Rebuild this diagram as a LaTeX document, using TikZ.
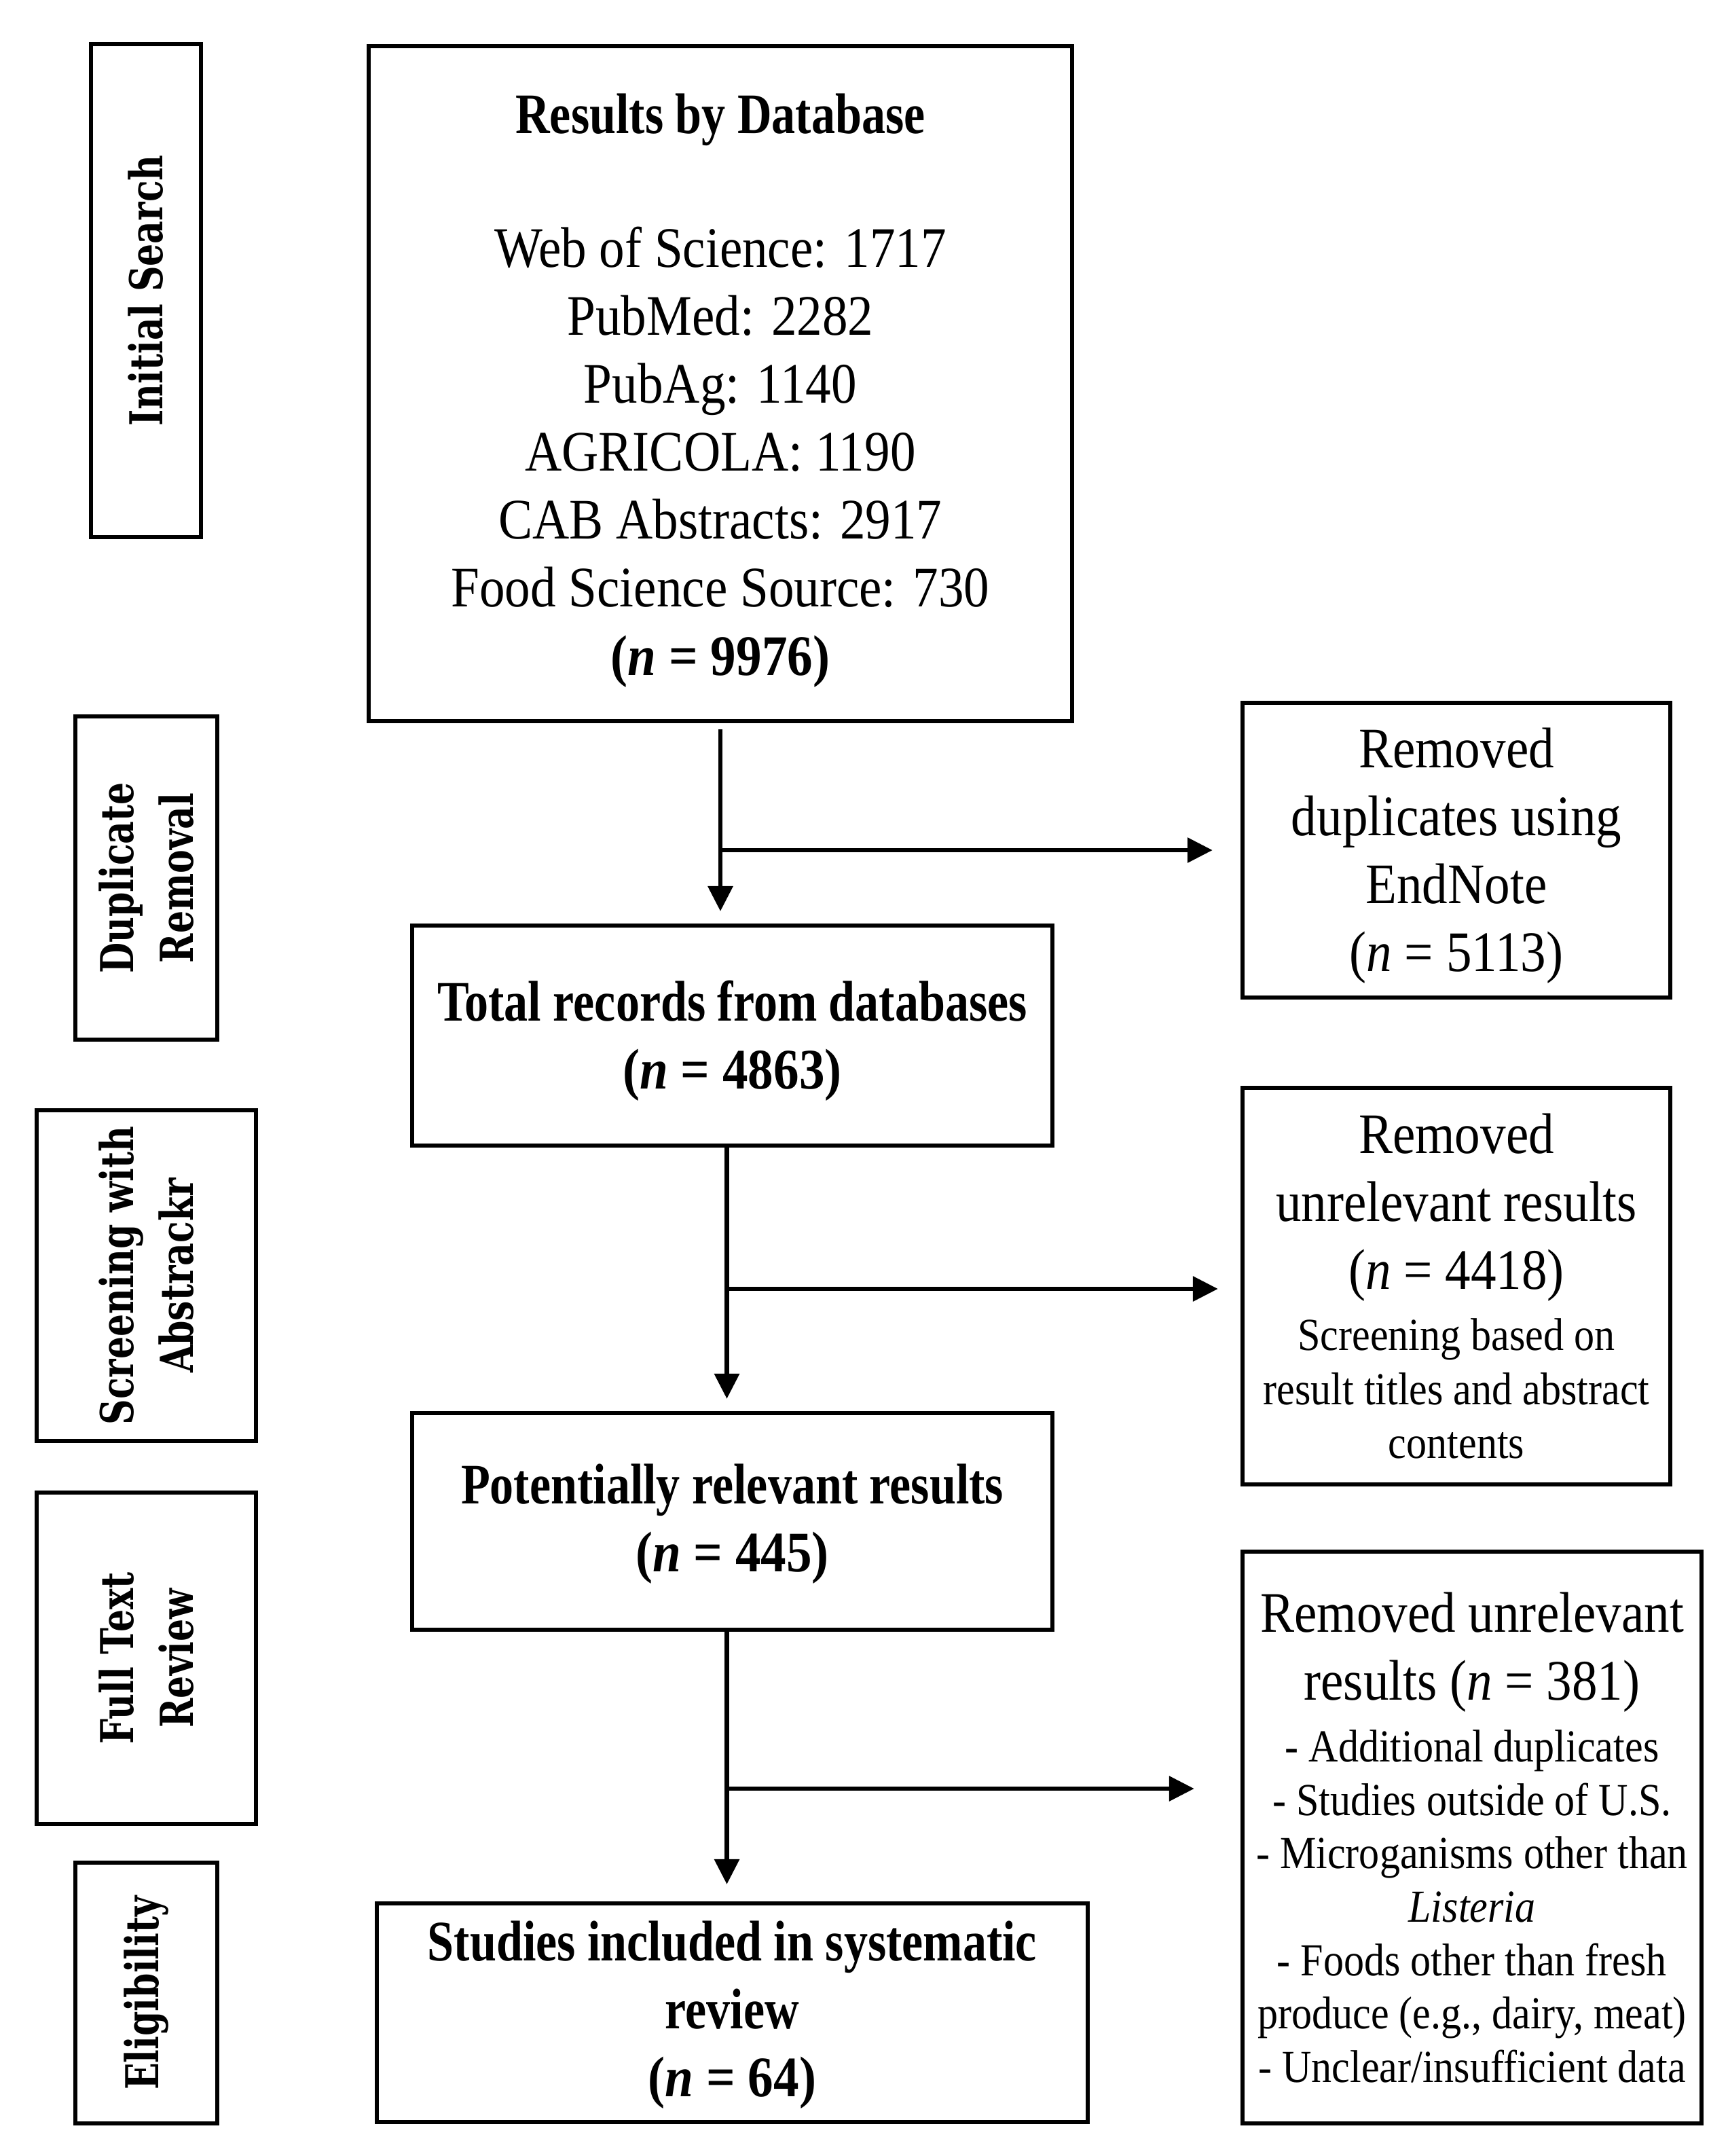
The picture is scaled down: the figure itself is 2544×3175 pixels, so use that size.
\documentclass[tikz,border=0pt]{standalone}
\usepackage{fontspec}
\setmainfont{Liberation Serif}[FakeStretch=0.89]
\newfontfamily\titlefont{Liberation Serif}[FakeStretch=0.83]
\newfontfamily\stagefont{DejaVu Serif}[FakeStretch=0.78]
\usetikzlibrary{arrows.meta}
\begin{document}
\begin{tikzpicture}[x=0.01cm,y=-0.01cm,
  every node/.style={inner sep=0pt,outer sep=0pt},
  boxst/.style={draw,line width=1.8pt,rectangle},
  txtst/.style={align=center,font=\fontsize{24}{28.45}\selectfont},
  stagest/.style={draw,line width=1.8pt,rectangle,align=center,rotate=90,font=\stagefont\bfseries\fontsize{19}{25}\selectfont},
  arr/.style={line width=1.85pt,-{Triangle[length=0.37cm,width=0.36cm]}}]
\useasboundingbox (0,0) rectangle (2544,3175);
% stage boxes (rotated: width = box height, height = box width)
\node[stagest,minimum width=7.26cm,minimum height=1.62cm] (stIS) at (215,428) {Initial Search};
\node[stagest,minimum width=4.76cm,minimum height=2.09cm] (stDR) at (215.5,1293) {Duplicate\\Removal};
\node[stagest,minimum width=4.87cm,minimum height=3.23cm] (stSA) at (215.5,1878.5) {Screening with\\Abstrackr};
\node[stagest,minimum width=4.88cm,minimum height=3.23cm] (stFT) at (215.5,2442) {Full Text\\Review};
\node[stagest,minimum width=3.84cm,minimum height=2.09cm] (stEL) at (215.5,2935) {Eligibility};
% main boxes
\node[boxst,minimum width=10.36cm,minimum height=9.94cm] (res) at (1061,565) {};
\node[txtst] (resT) at ([yshift=-0.1cm]res.center)
  {{\titlefont\bfseries Results by Database}\\[27.6pt]
   Web of Science: 1717\\PubMed: 2282\\PubAg: 1140\\AGRICOLA: 1190\\CAB Abstracts: 2917\\Food Science Source: 730\\
   {\bfseries(\textit{n} = 9976)}};
\node[boxst,minimum width=9.43cm,minimum height=3.24cm] (tot) at (1078.5,1525) {};
\node[txtst] (totT) at ([yshift=-0.08cm]tot.center)
  {{\titlefont\bfseries Total records from databases}\\{\bfseries(\textit{n} = 4863)}};
\node[boxst,minimum width=9.43cm,minimum height=3.19cm] (pot) at (1078.5,2240.5) {};
\node[txtst] (potT) at ([yshift=-0.04cm]pot.center)
  {{\titlefont\bfseries Potentially relevant results}\\{\bfseries(\textit{n} = 445)}};
\node[boxst,minimum width=10.47cm,minimum height=3.22cm] (stu) at (1078.5,2964) {};
\node[txtst] (stuT) at ([yshift=-0.03cm]stu.center)
  {{\titlefont\bfseries Studies included in systematic}\\{\titlefont\bfseries review}\\{\bfseries(\textit{n} = 64)}};
% right boxes
\node[boxst,minimum width=6.30cm,minimum height=4.34cm] (dup) at (2145,1252) {};
\node[txtst] (dupT) at ([yshift=-0.08cm]dup.center)
  {Removed\\duplicates using\\EndNote\\(\textit{n} = 5113)};
\node[boxst,minimum width=6.30cm,minimum height=5.84cm] (unr) at (2145,1894) {};
\node[txtst] (unrT) at (unr.center)
  {Removed\\unrelevant results\\(\textit{n} = 4418)\\[-2.85pt]
   {\fontsize{19.2}{22.5}\selectfont Screening based on}\\[-5.95pt]
   {\fontsize{19.2}{22.5}\selectfont result titles and abstract}\\[-5.95pt]
   {\fontsize{19.2}{22.5}\selectfont contents}};
\node[boxst,minimum width=6.76cm,minimum height=8.42cm] (ful) at (2168,2706) {};
\node[txtst] (fulT) at (ful.center)
  {Removed unrelevant\\results (\textit{n} = 381)\\[-2.55pt]
   {\fontsize{19.2}{22.5}\selectfont - Additional duplicates}\\[-6.1pt]
   {\fontsize{19.2}{22.5}\selectfont - Studies outside of U.S.}\\[-6.1pt]
   {\fontsize{19.2}{22.5}\selectfont - Microganisms other than}\\[-6.1pt]
   {\fontsize{19.2}{22.5}\selectfont\itshape Listeria}\\[-6.1pt]
   {\fontsize{19.2}{22.5}\selectfont - Foods other than fresh}\\[-6.1pt]
   {\fontsize{19.2}{22.5}\selectfont produce (e.g., dairy, meat)}\\[-6.1pt]
   {\fontsize{19.2}{22.5}\selectfont - Unclear/insufficient data}};
% branch points
\coordinate (b1) at (1062,1252);
\coordinate (b2) at (1070,1898);
\coordinate (b3) at (1070,2634);
% connectors
\draw[arr,shorten <=0.12cm,shorten >=0.21cm] (res.south) -- (res.south |- tot.north);
\draw[arr,shorten >=0.44cm] (b1) -- (b1 -| dup.west);
\draw[arr,shorten >=0.21cm] ([xshift=-0.08cm]tot.south) -- ([xshift=-0.08cm]tot.south |- pot.north);
\draw[arr,shorten >=0.36cm] (b2) -- (b2 -| unr.west);
\draw[arr,shorten >=0.28cm] ([xshift=-0.08cm]pot.south) -- ([xshift=-0.08cm]pot.south |- stu.north);
\draw[arr,shorten >=0.71cm] (b3) -- (b3 -| ful.west);
\end{tikzpicture}
\end{document}
